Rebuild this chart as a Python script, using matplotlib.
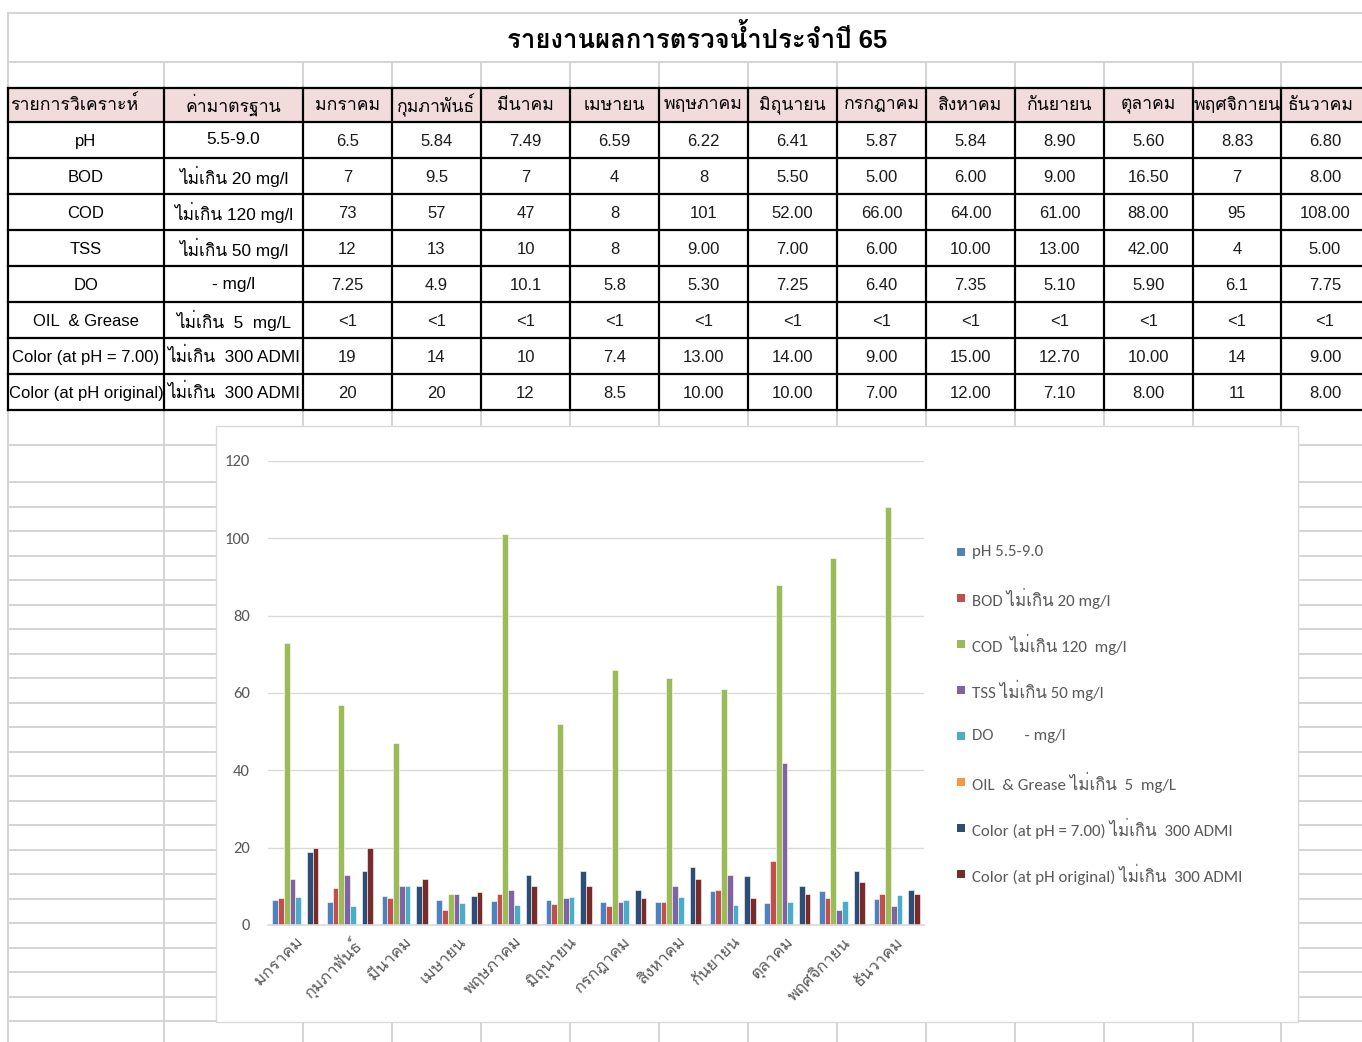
import matplotlib
matplotlib.use("Agg")
import matplotlib.pyplot as plt
from matplotlib.patches import Rectangle
import numpy as np

# ---------------- data ----------------
title = "รายงานผลการตรวจน้ำประจำปี 65"
header_item = "รายการวิเคราะห์"
header_std = "ค่ามาตรฐาน"
months = ["มกราคม", "กุมภาพันธ์", "มีนาคม", "เมษายน", "พฤษภาคม", "มิถุนายน",
          "กรกฎาคม", "สิงหาคม", "กันยายน", "ตุลาคม", "พฤศจิกายน", "ธันวาคม"]
params = ["pH", "BOD", "COD", "TSS", "DO", "OIL  & Grease",
          "Color (at pH = 7.00)", "Color (at pH original)"]
standards = ["5.5-9.0", "ไม่เกิน 20 mg/l", "ไม่เกิน 120 mg/l", "ไม่เกิน 50 mg/l",
             "- mg/l", "ไม่เกิน  5  mg/L", "ไม่เกิน  300 ADMI", "ไม่เกิน  300 ADMI"]
series_labels = ["pH 5.5-9.0", "BOD ไม่เกิน 20 mg/l", "COD  ไม่เกิน 120  mg/l",
                 "TSS ไม่เกิน 50 mg/l", "DO        - mg/l",
                 "OIL  & Grease ไม่เกิน  5  mg/L",
                 "Color (at pH = 7.00) ไม่เกิน  300 ADMI",
                 "Color (at pH original) ไม่เกิน  300 ADMI"]

ph = ["6.5", "5.84", "7.49", "6.59", "6.22", "6.41", "5.87", "5.84", "8.90", "5.60", "8.83", "6.80"]
bod = ["7", "9.5", "7", "4", "8", "5.50", "5.00", "6.00", "9.00", "16.50", "7", "8.00"]
cod = ["73", "57", "47", "8", "101", "52.00", "66.00", "64.00", "61.00", "88.00", "95", "108.00"]
tss = ["12", "13", "10", "8", "9.00", "7.00", "6.00", "10.00", "13.00", "42.00", "4", "5.00"]
do = ["7.25", "4.9", "10.1", "5.8", "5.30", "7.25", "6.40", "7.35", "5.10", "5.90", "6.1", "7.75"]
oil = ["<1", "<1", "<1", "<1", "<1", "<1", "<1", "<1", "<1", "<1", "<1", "<1"]
color_ph7 = ["19", "14", "10", "7.4", "13.00", "14.00", "9.00", "15.00", "12.70", "10.00", "14", "9.00"]
color_orig = ["20", "20", "12", "8.5", "10.00", "10.00", "7.00", "12.00", "7.10", "8.00", "11", "8.00"]
table_rows = [ph, bod, cod, tss, do, oil, color_ph7, color_orig]

y_ticks = [0, 20, 40, 60, 80, 100, 120]

# ---------------- styles ----------------
series_colors = ["#4F81BD", "#C0504D", "#9BBB59", "#8064A2", "#4BACC6",
                 "#F79646", "#2C4D75", "#772C2A"]
TABLE_FONT = ["Liberation Sans", "Loma", "DejaVu Sans"]
CHART_FONT = ["Carlito", "Lato", "Loma", "DejaVu Sans"]
GRID = "#D4D4D4"

W, H = 1362, 1042
fig = plt.figure(figsize=(W / 100, H / 100), dpi=100)
bg = fig.add_axes([0, 0, 1, 1])
bg.set_xlim(0, W)
bg.set_ylim(H, 0)
bg.axis("off")

col_x = [8, 164, 303, 392, 481, 570, 659, 748, 837, 926, 1015, 1104, 1193, 1281, 1372]
row_y = [88, 122, 158, 194, 230, 266, 302, 338, 374, 410]

# spreadsheet gridlines (light gray)
glw = 1.4
bg.plot([8, W], [13, 13], color=GRID, lw=glw, zorder=1)
bg.plot([8, W], [62, 62], color=GRID, lw=glw, zorder=1)
bg.plot([8, 8], [13, H], color=GRID, lw=glw, zorder=1)
for cx in col_x:
    bg.plot([cx, cx], [62, 88], color=GRID, lw=glw, zorder=1)
    bg.plot([cx, cx], [410, H], color=GRID, lw=glw, zorder=1)
grid_rows = [445] + list(np.arange(482, 1026, 24.5))
for gy in grid_rows:
    bg.plot([8, W], [gy, gy], color=GRID, lw=glw, zorder=1)

# header fill
bg.add_patch(Rectangle((8, 88), W - 8, 34, facecolor="#F2DCDB", edgecolor="none", zorder=1.5))

# table black borders
for ry in row_y:
    bg.plot([8, col_x[-1]], [ry, ry], color="black", lw=1.6, zorder=2, solid_capstyle="projecting")
for cx in col_x:
    bg.plot([cx, cx], [88, 410], color="black", lw=1.6, zorder=2, solid_capstyle="projecting")

# title
bg.text(697, 39, title, ha="center", va="center", fontsize=18.5, fontweight="bold",
        family=TABLE_FONT, color="black", zorder=3)

# header texts
hy = 105
bg.text(10, hy, header_item, ha="left", va="center", fontsize=12.7, family=TABLE_FONT, zorder=3)
bg.text((col_x[1] + col_x[2]) / 2, hy, header_std, ha="center", va="center", fontsize=12.7,
        family=TABLE_FONT, zorder=3)
for j, m in enumerate(months):
    bg.text((col_x[j + 2] + col_x[j + 3]) / 2 if j < 11 else 1321, hy, m, ha="center",
            va="center", fontsize=12.7, family=TABLE_FONT, zorder=3)

# table body
for i, (p, s, vals) in enumerate(zip(params, standards, table_rows)):
    cy = (row_y[i + 1] + row_y[i + 2]) / 2 + 1.5
    bg.text((col_x[0] + col_x[1]) / 2, cy, p, ha="center", va="center", fontsize=12,
            family=TABLE_FONT, zorder=3)
    bg.text((col_x[1] + col_x[2]) / 2, cy - 1.5, s, ha="center", va="center", fontsize=12.4,
            family=TABLE_FONT, zorder=3)
    for j, v in enumerate(vals):
        cx = (col_x[j + 2] + col_x[j + 3]) / 2 if j < 11 else 1325
        bg.text(cx, cy, v, ha="center", va="center", fontsize=12, family=TABLE_FONT,
                color="#1a1a1a", zorder=3)

# chart box
bg.add_patch(Rectangle((216, 426), 1298 - 216, 1022 - 426, facecolor="white",
                       edgecolor="#D9D9D9", lw=1.0, zorder=3))

# ---------------- chart ----------------
px0, px1, py_top, py_bot = 268, 924, 461, 925
ax = fig.add_axes([px0 / W, 1 - py_bot / H, (px1 - px0) / W, (py_bot - py_top) / H])
ax.set_facecolor("none")

def to_num(s):
    return 0.0 if s.startswith("<") else float(s)

x = np.arange(len(months))
n = len(table_rows)
bw = 1.0 / (n + 1.5)
for i, (vals, c) in enumerate(zip(table_rows, series_colors)):
    ax.bar(x + (i - (n - 1) / 2) * bw, [to_num(v) for v in vals], width=bw, color=c,
           edgecolor="white", linewidth=0.4, zorder=2)

ax.set_xlim(-0.5, len(months) - 0.5)
ax.set_ylim(0, 120)
ax.set_yticks(y_ticks)
ax.yaxis.grid(True, color="#D9D9D9", lw=1.0, zorder=0)
ax.set_axisbelow(True)
for sp in ["top", "left", "right"]:
    ax.spines[sp].set_visible(False)
ax.spines["bottom"].set_color("#D9D9D9")
ax.spines["bottom"].set_linewidth(1.2)
ax.tick_params(axis="both", length=0, colors="#595959")
ax.tick_params(axis="y", pad=13)
ax.tick_params(axis="x", pad=7)
ax.set_xticks(x)
ax.set_xticklabels(months, rotation=45, ha="right", rotation_mode="anchor")
for t in ax.get_xticklabels():
    t.set_family(CHART_FONT)
    t.set_fontsize(12)
    t.set_color("#595959")
for t in ax.get_yticklabels():
    t.set_family(CHART_FONT)
    t.set_fontsize(12)
    t.set_color("#595959")

# legend (manual, Excel-like spacing)
for i, (lab, c) in enumerate(zip(series_labels, series_colors)):
    ly = 552 + 46 * i
    bg.add_patch(Rectangle((957, ly - 4.5), 8, 8, facecolor=c, edgecolor="none", zorder=4))
    bg.text(972, ly, lab, ha="left", va="center", fontsize=12.2, family=CHART_FONT,
            color="#595959", zorder=4)

fig.savefig("out.png", dpi=100)
